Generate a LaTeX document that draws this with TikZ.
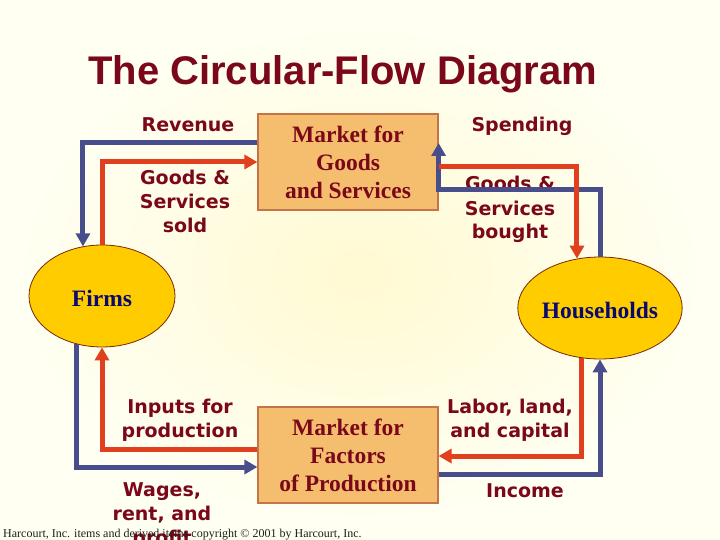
\documentclass[tikz,border=0pt]{standalone}
\usepackage{fontspec}
\setmainfont{Liberation Serif}
\newfontfamily\dejavu{DejaVu Sans}
\newfontfamily\arialf{Liberation Sans}
\usetikzlibrary{shapes.geometric,arrows.meta}
\definecolor{bg}{RGB}{255,255,242}
\definecolor{bgc}{RGB}{255,250,210}
\definecolor{maroon}{RGB}{122,8,26}
\definecolor{flowblue}{RGB}{72,78,140}
\definecolor{flowred}{RGB}{224,64,30}
\definecolor{boxfill}{RGB}{245,190,110}
\definecolor{boxdraw}{RGB}{196,116,72}
\definecolor{gold}{RGB}{255,204,0}
\definecolor{golddraw}{RGB}{120,40,10}
\definecolor{navy}{RGB}{10,10,110}
\definecolor{foottext}{RGB}{30,30,30}
\begin{document}
\begin{tikzpicture}[x=1pt,y=-1pt,
 market/.style={rectangle, draw=boxdraw, line width=1.2pt, fill=boxfill,
   minimum width=180pt, minimum height=96pt, inner sep=0pt, align=center,
   text=maroon, font=\fontsize{23.5}{28}\selectfont\bfseries},
 agent/.style={ellipse, draw=golddraw, line width=0.8pt, fill=gold,
   minimum width=146pt, minimum height=102pt, inner sep=0pt,
   text height=20pt, text depth=0pt,
   text=navy, font=\fontsize{23.5}{28}\selectfont\bfseries},
 lbl/.style={align=center, text=maroon, font=\dejavu\fontsize{19}{24}\selectfont\bfseries,
   inner sep=0pt, anchor=base},
 flow/.style={line width=5pt, -{Triangle[length=13pt,width=14pt]}},
 bflow/.style={flow, draw=flowblue},
 rflow/.style={flow, draw=flowred},
]
\useasboundingbox (0,0) rectangle (720,540);
\fill[bg] (0,0) rectangle (720,540);
\shade[inner color=bgc, outer color=bg] (20,28) rectangle (700,520);

% title
\node[anchor=base west, inner sep=0pt, text=maroon,
  font=\arialf\fontsize{40}{48}\selectfont\bfseries] (title) at (88,85) {The Circular-Flow Diagram};

% nodes
\node[market] (gs) at (348,162) {Market for\\Goods\\and Services};
\node[market] (fp) at (348,455) {Market for\\Factors\\of Production};
\node[agent] (firms) at (102,296) {Firms};
\node[agent] (hh) at (600,308) {Households};

% labels (base = baseline of last line)
\node[lbl] (lrev) at (188,132) {Revenue};
\node[lbl] (lsold) at (185,233) {Goods \&\\Services\\sold};
\node[lbl] (lspend) at (522,132) {Spending};
\node[lbl] (lbought) at (510,239) {Goods \&\\Services\\bought};
\node[lbl] (linputs) at (180,437) {Inputs for\\production};
\node[lbl] (llabor) at (510,437) {Labor, land,\\and capital};
\node[lbl] (lwages) at (162,544) {Wages,\\rent, and\\profit};
\node[lbl] (lincome) at (525,497) {Income};

% flows
\draw[bflow] ([yshift=19pt]gs.west) -| (firms.111.1);
\draw[rflow] (firms.north) |- (gs.west);
\draw[bflow] (hh.north) |- ([yshift=-28pt]gs.east) -- ([yshift=19pt]gs.east);
\draw[rflow] ([yshift=-5pt]gs.east) -| (hh.115.4);
\draw[rflow] ([yshift=6pt]fp.west) -| (firms.south);
\draw[bflow] (firms.242.4) |- ([yshift=-12pt]fp.west);
\draw[rflow] (hh.250) |- ([yshift=-1pt]fp.east);
\draw[bflow] ([yshift=-19pt]fp.east) -| (hh.south);

% footer
\node[anchor=base west, inner sep=0pt, text=foottext, font=\fontsize{12}{14}\selectfont]
  (foot) at (3,537) {Harcourt, Inc. items and derived items copyright \textcopyright{} 2001 by Harcourt, Inc.};
\end{tikzpicture}
\end{document}
